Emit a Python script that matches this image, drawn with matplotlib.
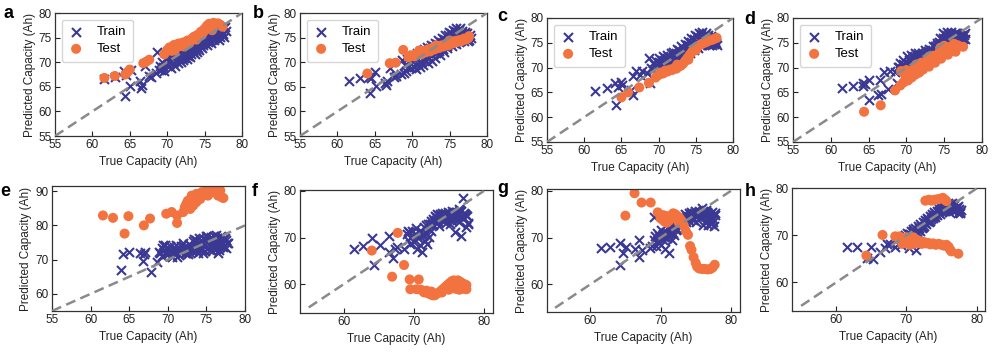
import matplotlib
matplotlib.use("Agg")
import matplotlib.pyplot as plt

plt.rcParams['font.family'] = ['Liberation Sans', 'DejaVu Sans']

# ---------------- shared training "true capacity" values (dense band) ----------------
train_true_band = [69.0, 69.2, 69.3, 69.5, 69.6, 69.8,
                   70.0, 70.1, 70.3, 70.4, 70.6, 70.8, 70.9,
                   71.1, 71.2, 71.4, 71.6, 71.7, 71.9,
                   72.0, 72.2, 72.4, 72.5, 72.7, 72.8,
                   73.0, 73.2, 73.3, 73.5, 73.6, 73.8,
                   74.0, 74.1, 74.3, 74.4, 74.6, 74.8, 74.9,
                   75.1, 75.2, 75.4, 75.6, 75.7, 75.9,
                   76.0, 76.2, 76.4, 76.5, 76.7, 76.8,
                   77.0, 77.2, 77.3, 77.5, 77.6, 77.8]
train_true_band2 = [70.5, 71.0, 71.5, 71.8, 72.1, 72.3, 72.6, 72.9, 73.1, 73.4,
                    73.7, 73.9, 74.2, 74.5, 74.7, 75.0, 75.3, 75.5, 75.8, 76.1,
                    76.3, 76.6, 76.9, 77.1, 77.4, 77.7, 74.0, 76.4]
train_low_true = [61.5, 63.0, 64.2, 64.3, 64.5, 65.0, 65.1, 66.3, 66.5, 66.6, 67.0, 67.5, 67.8, 68.5, 68.7, 68.9]

# ---------------- panel a ----------------
a_train_low_pred = [66.5, 67.0, 68.3, 63.2, 67.3, 65.2, 68.4, 66.1, 64.8, 65.3, 69.3, 67.2, 67.0, 67.8, 72.0, 68.5]
a_train_band_pred = [69.2, 68.5, 70.1, 69.0, 68.2, 70.6,
                     69.5, 71.0, 69.2, 70.4, 71.3, 69.8, 70.9,
                     71.8, 70.2, 71.5, 70.6, 72.2, 71.0,
                     72.0, 70.9, 72.6, 71.4, 72.0, 71.2,
                     72.8, 71.7, 73.1, 72.2, 73.4, 72.5,
                     73.6, 72.8, 74.0, 73.2, 74.3, 73.4, 74.8,
                     73.9, 75.0, 74.2, 75.4, 74.6, 75.6,
                     74.8, 75.8, 75.0, 76.2, 75.3, 76.0,
                     75.2, 76.5, 75.6, 77.0, 75.1, 76.3]
a_train_band2_pred = [68.9, 69.3, 69.8, 70.0, 70.4, 71.6, 70.7, 72.4, 71.0, 72.0,
                      71.6, 73.0, 72.4, 73.8, 72.9, 74.5, 73.5, 74.8, 74.0, 75.4,
                      74.5, 75.6, 74.6, 76.0, 75.8, 77.2, 72.0, 76.6]
a_test_true = [61.6, 63.0, 64.4, 64.7, 65.0, 66.8, 67.2, 67.6, 69.6, 70.0,
               70.3, 70.6, 70.9, 71.2, 71.5, 71.8, 72.1, 72.4, 72.7, 73.0,
               73.3, 73.6, 73.9, 74.2, 74.5, 74.8, 75.0, 75.3, 75.6, 75.9,
               76.2, 76.5, 76.8, 77.1, 77.4, 76.0, 74.0, 72.2, 71.0]
a_test_pred = [66.8, 67.2, 67.5, 68.0, 68.5, 69.8, 70.1, 70.5, 71.6, 72.5,
               73.0, 72.3, 73.5, 73.0, 73.8, 73.3, 74.0, 73.6, 74.4, 74.0,
               74.8, 75.2, 74.6, 75.6, 76.2, 76.0, 76.8, 77.4, 77.8, 77.6,
               78.0, 77.7, 77.9, 77.6, 77.2, 76.5, 75.5, 73.2, 72.4]

# ---------------- panel b ----------------
b_train_low_pred = [66.2, 66.7, 67.0, 63.8, 66.8, 68.0, 65.2, 65.8, 65.4, 66.2, 68.8, 67.0, 67.2, 67.5, 70.5, 67.8]
b_train_band_pred = [69.5, 68.2, 70.6, 69.0, 71.2, 68.8,
                     70.2, 71.5, 69.0, 70.8, 71.8, 69.6, 71.2,
                     72.2, 70.0, 71.6, 72.6, 70.4, 72.0,
                     73.0, 70.8, 72.8, 73.5, 71.4, 73.2,
                     74.0, 71.8, 73.6, 74.5, 72.3, 74.2,
                     75.0, 72.6, 74.8, 75.6, 73.2, 75.5, 76.2,
                     73.6, 76.0, 76.6, 74.0, 76.4, 76.9,
                     74.5, 76.5, 77.0, 74.8, 76.3, 75.2,
                     75.8, 74.8, 76.0, 75.2, 74.6, 75.0]
b_train_band2_pred = [68.6, 69.0, 69.4, 71.2, 69.8, 71.8, 70.2, 72.4, 70.8, 73.0,
                      71.5, 73.8, 72.0, 74.2, 72.8, 75.0, 73.2, 75.3, 73.8, 75.8,
                      74.2, 76.0, 74.4, 76.2, 74.4, 75.6, 73.5, 75.6]
b_test_true = [64.0, 67.0, 67.8, 68.8, 69.5, 69.9, 70.3, 70.6, 70.9, 71.2,
               71.5, 71.8, 72.1, 72.4, 72.7, 73.0, 73.3, 73.6, 73.9, 74.2,
               74.5, 74.8, 75.1, 75.4, 75.7, 76.0, 76.3, 76.6, 76.9, 77.2,
               77.5, 77.6, 75.0, 73.2, 71.0]
b_test_pred = [67.7, 69.8, 69.9, 72.5, 71.0, 71.4, 71.2, 71.8, 72.0, 71.6,
               72.3, 72.0, 72.6, 72.2, 72.9, 72.6, 73.1, 72.9, 73.4, 73.2,
               73.7, 73.4, 74.0, 73.8, 74.3, 74.1, 74.5, 74.3, 74.8, 74.6,
               74.9, 75.3, 74.4, 73.4, 72.4]

# ---------------- panel c ----------------
c_train_low_pred = [65.2, 65.8, 66.8, 62.5, 66.0, 67.0, 66.5, 65.5, 64.4, 68.3, 69.3, 68.6, 69.4, 69.0, 72.0, 66.8]
c_train_band_pred = [70.0, 71.0, 69.6, 70.6, 71.4, 70.2,
                     71.2, 72.0, 70.6, 71.5, 72.3, 71.0, 72.0,
                     72.6, 71.2, 72.2, 72.9, 71.5, 72.6,
                     73.2, 71.8, 73.0, 73.8, 72.2, 73.6,
                     74.3, 72.6, 74.0, 74.8, 73.0, 74.6,
                     75.4, 73.5, 75.2, 76.0, 73.9, 75.8, 76.6,
                     74.2, 76.4, 77.0, 74.5, 76.8, 77.2,
                     74.8, 76.6, 77.0, 75.0, 76.2, 74.6,
                     75.8, 74.5, 76.0, 74.8, 75.4, 74.6]
c_train_band2_pred = [69.8, 70.2, 70.6, 71.2, 71.0, 72.0, 71.5, 72.5, 72.0, 73.2,
                      72.6, 74.0, 73.0, 74.8, 73.6, 75.4, 74.0, 75.8, 74.6, 76.0,
                      75.2, 76.6, 75.4, 76.4, 75.6, 75.0, 74.5, 75.8]
c_test_true = [65.0, 65.9, 67.4, 68.7, 69.6, 70.0, 70.3, 70.6, 70.9, 71.2,
               71.5, 71.8, 72.1, 72.4, 72.7, 73.0, 73.3, 73.6, 73.9, 74.2,
               74.5, 74.8, 75.1, 75.4, 75.7, 76.0, 76.3, 76.6, 76.9, 77.2,
               77.5, 77.8, 75.0, 74.0, 72.5]
c_test_pred = [64.0, 65.0, 66.0, 66.9, 68.0, 68.5, 69.0, 68.8, 69.4, 69.2,
               69.6, 69.5, 69.9, 69.8, 70.2, 70.4, 70.8, 71.4, 72.0, 72.6,
               73.2, 73.7, 74.1, 74.4, 74.7, 74.9, 75.1, 75.3, 75.5, 75.6,
               75.8, 76.0, 73.5, 71.6, 70.6]

# ---------------- panel d ----------------
d_train_low_pred = [65.8, 66.3, 66.8, 66.2, 66.6, 67.5, 63.4, 64.5, 67.4, 64.6, 69.2, 65.6, 69.4, 69.2, 66.8, 70.2]
d_train_band_pred = [70.2, 71.0, 69.8, 70.8, 71.6, 70.4,
                     71.0, 72.3, 70.8, 71.6, 72.6, 71.2, 72.2,
                     72.9, 71.4, 72.4, 72.9, 71.6, 72.6,
                     73.0, 71.9, 73.0, 73.6, 72.4, 73.4,
                     73.8, 72.8, 73.6, 74.4, 73.2, 74.4,
                     75.0, 73.8, 75.2, 76.0, 74.2, 76.0, 77.0,
                     74.8, 76.6, 77.2, 75.2, 76.8, 77.2,
                     75.4, 76.6, 77.0, 75.6, 76.4, 75.8,
                     76.8, 75.6, 76.4, 75.8, 76.6, 77.0]
d_train_band2_pred = [70.2, 70.6, 71.0, 72.0, 71.4, 72.4, 71.8, 72.8, 72.2, 73.4,
                      72.8, 74.2, 73.6, 75.0, 74.4, 75.8, 75.0, 76.2, 75.6, 76.6,
                      75.8, 77.0, 76.0, 76.4, 76.6, 75.8, 74.6, 76.2]
d_test_true = [64.4, 66.6, 68.5, 69.3, 69.2, 69.6, 69.9, 70.2, 70.4, 70.7,
               71.0, 71.2, 71.5, 71.7, 72.0, 72.2, 72.5, 72.8, 73.0, 73.3,
               73.6, 73.8, 74.1, 74.4, 74.6, 74.9, 75.2, 75.5, 75.8, 76.1,
               76.3, 76.5, 76.8, 77.5, 73.0, 71.3, 70.0, 74.5, 75.0]
d_test_pred = [61.1, 62.4, 65.4, 69.3, 66.4, 67.0, 68.2, 67.4, 69.0, 68.0,
               69.8, 68.6, 70.2, 69.0, 71.0, 69.6, 70.6, 71.6, 70.2, 71.2,
               72.4, 71.0, 72.0, 73.2, 71.8, 72.8, 73.8, 72.6, 74.2, 73.4,
               74.8, 73.2, 74.5, 74.2, 72.2, 70.6, 69.5, 74.0, 74.4]

# ---------------- panel e ----------------
e_train_low_true = [64.0, 64.2, 65.0, 66.4, 66.8, 67.0, 67.8, 68.6, 68.8, 69.4, 69.2, 66.9]
e_train_low_pred = [67.1, 71.5, 72.3, 72.0, 69.5, 72.2, 66.3, 69.2, 72.3, 74.4, 71.0, 71.5]
e_train_band_pred = [72.0, 73.5, 71.2, 72.8, 74.2, 71.5,
                     73.0, 72.0, 74.0, 71.2, 72.6, 73.8, 71.8,
                     72.9, 70.8, 73.4, 72.2, 74.0, 72.6,
                     75.0, 71.8, 73.6, 72.8, 74.6, 72.2,
                     73.5, 75.3, 72.5, 74.0, 75.8, 72.8,
                     74.6, 76.2, 73.0, 75.2, 76.4, 72.5, 75.6,
                     76.8, 73.4, 75.8, 76.6, 72.4, 74.6,
                     76.9, 73.2, 75.4, 71.8, 76.5, 73.8,
                     75.2, 76.0, 74.0, 75.6, 73.4, 74.8]
e_train_band2_pred = [70.8, 74.2, 71.4, 72.8, 73.8, 72.0, 71.5, 74.2, 72.6, 76.0,
                      73.4, 71.8, 75.0, 72.0, 74.0, 77.0, 74.6, 72.8, 75.4, 74.2,
                      77.2, 72.8, 76.8, 73.6, 76.4, 75.0, 73.8, 76.2]
e_test_true = [61.6, 62.9, 64.9, 64.4, 66.9, 67.7, 69.8, 70.5, 71.2, 71.2,
               72.0, 72.2, 72.9, 73.3, 72.6, 73.1, 73.7, 74.4, 75.0, 75.7,
               76.3, 77.0, 76.5, 74.2, 73.7, 75.2, 75.9, 72.4, 76.8, 77.2]
e_test_pred = [82.9, 82.2, 82.7, 77.6, 80.0, 82.0, 83.4, 83.9, 82.9, 80.7,
               83.9, 85.3, 84.8, 85.8, 87.2, 88.7, 89.2, 89.7, 90.1, 90.6,
               90.6, 88.2, 88.7, 87.7, 86.8, 88.7, 89.7, 86.3, 90.2, 88.0]

# ---------------- panel f ----------------
f_train_low_true = [61.5, 62.8, 64.0, 64.3, 65.1, 66.4, 66.4, 67.0, 67.3, 67.6, 68.6, 69.1]
f_train_low_pred = [67.6, 68.2, 69.9, 64.1, 68.3, 70.4, 66.8, 65.7, 67.5, 67.9, 67.6, 71.4]
f_train_band_pred = [70.8, 69.5, 71.2, 68.6, 70.2, 71.5,
                     69.0, 70.8, 72.0, 67.6, 69.8, 71.2, 68.4,
                     66.8, 70.5, 72.2, 69.2, 71.0, 68.6,
                     72.8, 70.2, 73.5, 71.5, 74.0, 72.6,
                     74.6, 73.8, 75.0, 74.2, 72.4, 74.8,
                     75.2, 73.6, 74.6, 75.3, 73.2, 74.8, 75.4,
                     72.8, 74.4, 75.6, 74.0, 75.2, 71.2,
                     74.6, 75.4, 73.4, 74.8, 70.3, 75.6,
                     78.4, 74.2, 75.0, 72.3, 74.6, 72.8]
f_train_band2_pred = [70.4, 71.4, 70.6, 72.6, 71.8, 73.0, 72.8, 73.6, 74.4, 73.4,
                      75.0, 74.0, 74.8, 75.0, 74.2, 75.2, 73.8, 74.8, 75.4, 73.8,
                      75.0, 76.0, 74.4, 75.3, 74.8, 73.2, 74.0, 76.2]
f_test_true = [64.0, 67.7, 66.9, 68.6, 69.4, 70.7, 69.5, 70.4, 71.0, 71.4,
               71.8, 72.1, 72.4, 72.7, 73.0, 73.3, 73.6, 73.9, 74.2, 74.5,
               74.8, 75.1, 75.4, 75.7, 76.0, 76.3, 76.6, 76.9, 77.2, 77.5,
               75.5, 76.0, 76.5, 77.0, 77.5, 72.5, 74.0, 75.0, 71.5]
f_test_pred = [67.2, 71.0, 61.6, 64.1, 61.0, 61.0, 58.9, 58.9, 58.8, 58.4,
               58.6, 58.0, 57.8, 57.6, 57.6, 58.0, 58.2, 58.6, 59.0, 59.4,
               59.8, 60.2, 60.6, 60.8, 60.6, 60.8, 60.5, 60.2, 60.0, 59.8,
               59.2, 59.0, 58.8, 59.0, 58.9, 58.4, 58.2, 58.8, 58.2]

# ---------------- panel g ----------------
g_train_low_true = [61.5, 62.8, 64.2, 64.3, 64.6, 65.1, 66.4, 66.9, 67.0, 67.3, 68.5, 68.8, 69.1]
g_train_low_pred = [67.7, 67.9, 68.9, 64.2, 66.8, 68.0, 67.5, 69.6, 65.9, 67.3, 67.7, 68.2, 74.4]
g_train_band_pred = [69.6, 70.4, 68.2, 71.0, 69.0, 70.4,
                     71.6, 68.4, 70.8, 69.6, 67.6, 71.2, 70.0,
                     72.2, 66.8, 71.0, 69.4, 72.6, 70.6,
                     73.4, 71.6, 73.0, 74.2, 72.4, 73.6,
                     74.6, 73.2, 74.2, 75.0, 73.4, 74.6,
                     75.2, 73.6, 74.6, 75.4, 73.8, 74.8, 75.6,
                     73.4, 74.6, 75.8, 74.2, 75.2, 76.4,
                     72.8, 75.2, 76.0, 73.6, 75.0, 72.6,
                     74.6, 73.0, 75.4, 74.0, 72.4, 74.8]
g_train_band2_pred = [70.2, 70.6, 72.0, 71.0, 72.6, 71.8, 73.2, 72.8, 74.0, 73.8,
                      74.4, 74.0, 75.0, 74.4, 75.2, 75.0, 74.8, 75.4, 74.4, 75.6,
                      74.6, 75.4, 73.8, 75.0, 73.4, 75.2, 74.4, 75.4]
g_test_true = [65.0, 66.3, 67.3, 68.6, 69.6, 70.0, 70.3, 70.6, 70.9, 71.2,
               71.5, 71.8, 72.1, 72.4, 72.7, 73.0, 73.3, 73.6, 73.9, 74.2,
               74.4, 74.7, 75.0, 75.2, 75.5, 75.9, 76.3, 76.7, 77.1, 77.4,
               77.7, 71.0, 72.0, 72.6, 70.4]
g_test_pred = [74.7, 79.5, 77.5, 77.5, 75.4, 74.2, 73.8, 73.4, 73.2, 73.6,
               74.4, 75.2, 75.0, 74.6, 74.2, 73.6, 72.6, 71.4, 70.6, 68.2,
               67.4, 65.8, 64.6, 63.8, 63.4, 63.3, 63.3, 63.2, 63.3, 63.6,
               64.2, 74.6, 74.2, 73.2, 74.8]

# ---------------- panel h ----------------
h_train_low_true = [61.6, 62.9, 64.4, 65.0, 65.2, 66.3, 66.9, 67.3, 67.6, 68.4, 69.5]
h_train_low_pred = [67.6, 67.6, 65.1, 67.6, 64.9, 66.4, 67.3, 68.2, 68.1, 67.6, 68.6]
h_train_band_pred = [68.4, 69.2, 68.0, 69.5, 68.8, 70.0,
                     69.4, 70.6, 67.4, 70.2, 71.0, 69.8, 71.4,
                     70.4, 71.6, 66.9, 71.2, 72.0, 71.0,
                     72.4, 71.6, 72.8, 72.0, 73.2, 72.4,
                     73.8, 72.8, 74.2, 73.4, 74.6, 73.8,
                     75.0, 74.0, 75.2, 74.4, 75.6, 74.6, 76.0,
                     75.0, 76.4, 75.2, 76.6, 75.4, 76.8,
                     75.0, 76.6, 75.6, 76.8, 75.2, 76.4,
                     75.6, 76.0, 74.8, 75.6, 75.0, 75.4]
h_train_band2_pred = [70.4, 71.0, 70.8, 71.6, 72.0, 71.8, 72.6, 73.0, 73.4, 73.0,
                      74.0, 74.4, 74.6, 75.0, 75.2, 75.6, 75.8, 75.6, 76.0, 76.2,
                      76.0, 75.8, 75.8, 75.4, 76.2, 74.8, 74.2, 76.4]
h_test_true = [64.3, 66.6, 68.4, 69.0, 69.4, 69.7, 70.0, 70.3, 70.5, 70.8,
               71.0, 71.3, 71.6, 71.9, 72.2, 72.5, 72.8, 73.1, 73.4, 73.8,
               74.2, 74.6, 75.0, 75.4, 75.7, 76.0, 76.2, 76.4, 77.4, 72.7,
               73.2, 73.6, 74.0, 74.4, 74.8, 75.2, 75.5, 75.7, 70.0, 71.0]
h_test_pred = [65.7, 70.1, 69.8, 69.8, 68.2, 69.0, 68.4, 69.4, 68.0, 68.8,
               68.2, 69.0, 68.4, 68.8, 68.2, 68.6, 68.3, 68.4, 68.1, 68.3,
               68.0, 68.2, 68.0, 67.8, 68.0, 67.6, 67.0, 66.6, 66.1, 77.4,
               77.6, 77.4, 77.6, 77.7, 77.8, 78.0, 77.6, 77.3, 69.6, 69.6]

panel_labels = ['a', 'b', 'c', 'd', 'e', 'f', 'g', 'h']
legend_labels = ['Train', 'Test']
x_label = 'True Capacity (Ah)'
y_label = 'Predicted Capacity (Ah)'

TRAIN_C = '#3b3894'
TEST_C = '#f2733f'
W, H = 996, 353

fig = plt.figure(figsize=(W / 100, H / 100), dpi=100)


def px_axes(l, t, r, b):
    return fig.add_axes([l / W, 1 - b / H, (r - l) / W, (b - t) / H])


panels = [
    ('a', (55, 13, 242, 136), train_low_true, a_train_low_pred, a_train_band_pred, a_train_band2_pred,
     a_test_true, a_test_pred, (55, 80), (55, 80), [55, 60, 65, 70, 75, 80], [55, 60, 65, 70, 75, 80], True, (3, 18)),
    ('b', (300, 13, 487, 136), train_low_true, b_train_low_pred, b_train_band_pred, b_train_band2_pred,
     b_test_true, b_test_pred, (55, 80), (55, 80), [55, 60, 65, 70, 75, 80], [55, 60, 65, 70, 75, 80], True, (253, 18)),
    ('c', (547, 18, 733, 142), train_low_true, c_train_low_pred, c_train_band_pred, c_train_band2_pred,
     c_test_true, c_test_pred, (55, 80), (55, 80), [55, 60, 65, 70, 75, 80], [55, 60, 65, 70, 75, 80], True, (497, 21)),
    ('d', (793, 18, 982, 142), train_low_true, d_train_low_pred, d_train_band_pred, d_train_band2_pred,
     d_test_true, d_test_pred, (55, 80), (55, 80), [55, 60, 65, 70, 75, 80], [55, 60, 65, 70, 75, 80], True, (744, 24)),
    ('e', (52, 186, 245, 311), e_train_low_true, e_train_low_pred, e_train_band_pred, e_train_band2_pred,
     e_test_true, e_test_pred, (55, 80), (55, 91.5), [55, 60, 65, 70, 75, 80], [60, 70, 80, 90], False, (0, 196)),
    ('f', (300, 190, 493, 313), f_train_low_true, f_train_low_pred, f_train_band_pred, f_train_band2_pred,
     f_test_true, f_test_pred, (53.75, 81.3), (53.8, 80.2), [60, 70, 80], [60, 70, 80], False, (252, 196)),
    ('g', (547, 189, 740, 312), g_train_low_true, g_train_low_pred, g_train_band_pred, g_train_band2_pred,
     g_test_true, g_test_pred, (53.85, 81.3), (54.1, 80.4), [60, 70, 80], [60, 70, 80], False, (497, 193)),
    ('h', (792, 188, 985, 311), h_train_low_true, h_train_low_pred, h_train_band_pred, h_train_band2_pred,
     h_test_true, h_test_pred, (53.7, 81.2), (53.9, 80.1), [60, 70, 80], [60, 70, 80], False, (745, 196)),
]

for (lab, box, lt, lp, bp, b2p, tt, tp, xl, yl, xt, yt, leg, lpos) in panels:
    ax = px_axes(*box)
    tr_x = list(lt) + train_true_band + train_true_band2
    tr_y = list(lp) + bp + b2p
    ax.scatter(tr_x, tr_y, marker='x', s=42, linewidths=1.5, color=TRAIN_C, label=legend_labels[0], zorder=2)
    ax.scatter(tt, tp, marker='o', s=52, color=TEST_C, edgecolors='none', label=legend_labels[1], zorder=2.5)
    ax.plot([55, 80], [55, 80], ls='--', color='#8a8a8a', lw=1.8, dashes=(4, 2.2), zorder=3)
    ax.set_xlim(*xl)
    ax.set_ylim(*yl)
    ax.set_xticks(xt)
    ax.set_yticks(yt)
    ax.tick_params(direction='in', length=3.5, width=0.8, labelsize=8.5, pad=2.5, colors='#222222')
    for s in ax.spines.values():
        s.set_color('#333333')
        s.set_linewidth(0.9)
    ax.set_xlabel(x_label, fontsize=8.5, labelpad=3, color='#222222')
    ax.set_ylabel(y_label, fontsize=8.5, labelpad=2, color='#222222')
    if leg:
        ax.legend(loc='upper left', fontsize=9.5, frameon=True, borderpad=0.5, handletextpad=1.0,
                  labelspacing=0.35, handlelength=1.2, borderaxespad=0.5)
    fig.text(lpos[0] / W, 1 - lpos[1] / H, lab, fontsize=13, fontweight='bold', ha='left', va='baseline')

fig.savefig('out.png', dpi=100)
